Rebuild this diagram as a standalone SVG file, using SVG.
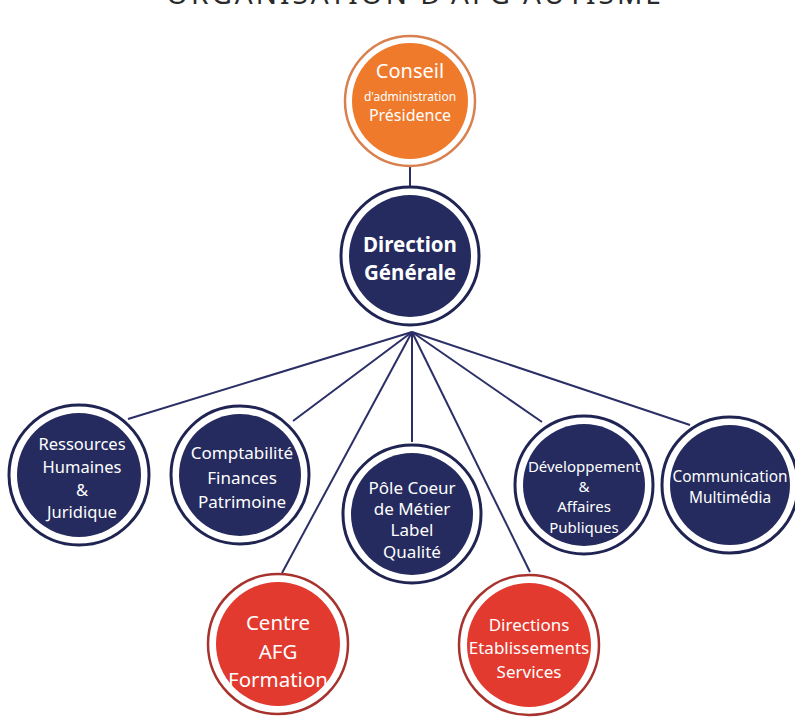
<svg xmlns="http://www.w3.org/2000/svg" width="795" height="717" viewBox="0 0 795 717">
<style>
text{font-family:"Noto Sans","Open Sans",sans-serif;fill:#ffffff;text-anchor:middle}
.title{fill:#2a2a2a;font-size:28px;letter-spacing:3px}
.ring-navy{fill:#ffffff;stroke:#1f2452;stroke-width:3}
.disc-navy{fill:#252b5e}
.ring-orange{fill:#ffffff;stroke:#d9804f;stroke-width:2.5}
.disc-orange{fill:#f07a2b}
.ring-red{fill:#ffffff;stroke:#a8332e;stroke-width:2.5}
.disc-red{fill:#e33a2f}
.conn line{stroke:#2b2f66;stroke-width:2}
.t16{font-size:16.5px}
</style>
<rect width="795" height="717" fill="#ffffff"/>
<text class="title" x="415" y="4">ORGANISATION D'AFG AUTISME</text>
<g id="connectors" class="conn">
<line x1="410" y1="166" x2="410" y2="186"/>
<line x1="412" y1="332" x2="128" y2="419"/>
<line x1="412" y1="332" x2="293" y2="421"/>
<line x1="412" y1="332" x2="412" y2="442"/>
<line x1="412" y1="332" x2="542" y2="422"/>
<line x1="412" y1="332" x2="690" y2="425"/>
<line x1="412" y1="332" x2="282" y2="573"/>
<line x1="412" y1="332" x2="530" y2="572"/>
</g>
<g id="conseil">
<circle class="ring-orange" cx="410" cy="101" r="65"/>
<circle class="disc-orange" cx="410" cy="101" r="58"/>
<text x="410" y="78" font-size="20">Conseil</text>
<text x="410" y="101" font-size="12">d'administration</text>
<text x="410" y="121" font-size="16">Présidence</text>
</g>
<g id="direction">
<circle class="ring-navy" cx="410" cy="256" r="69"/>
<circle class="disc-navy" cx="410" cy="256" r="61"/>
<text x="410" y="252" font-size="20.5" font-weight="bold">Direction</text>
<text x="410" y="280" font-size="20.5" font-weight="bold">Générale</text>
</g>
<g id="rh">
<circle class="ring-navy" cx="79" cy="475" r="70"/>
<circle class="disc-navy" cx="79" cy="475" r="62"/>
<text class="t16" x="82" y="450">Ressources</text>
<text class="t16" x="82" y="473">Humaines</text>
<text class="t16" x="82" y="496">&amp;</text>
<text class="t16" x="82" y="518">Juridique</text>
</g>
<g id="comptabilite">
<circle class="ring-navy" cx="240" cy="475" r="69"/>
<circle class="disc-navy" cx="240" cy="475" r="61"/>
<text x="242" y="459" font-size="17">Comptabilité</text>
<text x="242" y="484" font-size="17">Finances</text>
<text x="242" y="508" font-size="17">Patrimoine</text>
</g>
<g id="pole">
<circle class="ring-navy" cx="412" cy="514" r="69"/>
<circle class="disc-navy" cx="412" cy="514" r="61"/>
<text x="412" y="494" font-size="17">Pôle Coeur</text>
<text x="412" y="515" font-size="17">de Métier</text>
<text x="412" y="536" font-size="17">Label</text>
<text x="412" y="558" font-size="17">Qualité</text>
</g>
<g id="developpement">
<circle class="ring-navy" cx="584" cy="485" r="69"/>
<circle class="disc-navy" cx="584" cy="485" r="61"/>
<text x="584" y="472" font-size="15">Développement</text>
<text x="584" y="492" font-size="15">&amp;</text>
<text x="584" y="512" font-size="15">Affaires</text>
<text x="584" y="533" font-size="15">Publiques</text>
</g>
<g id="communication">
<circle class="ring-navy" cx="730" cy="485" r="68"/>
<circle class="disc-navy" cx="730" cy="485" r="60"/>
<text x="730" y="482" font-size="15.4">Communication</text>
<text x="730" y="503" font-size="15.4">Multimédia</text>
</g>
<g id="centre-afg">
<circle class="ring-red" cx="278" cy="644" r="70"/>
<circle class="disc-red" cx="278" cy="644" r="62"/>
<text x="278" y="630" font-size="20.5">Centre</text>
<text x="278" y="659" font-size="20.5">AFG</text>
<text x="278" y="687" font-size="20.5">Formation</text>
</g>
<g id="directions-etablissements">
<circle class="ring-red" cx="529" cy="645" r="70"/>
<circle class="disc-red" cx="529" cy="645" r="62"/>
<text x="529" y="631" font-size="17">Directions</text>
<text x="529" y="654" font-size="17">Etablissements</text>
<text x="529" y="678" font-size="17">Services</text>
</g>
</svg>
